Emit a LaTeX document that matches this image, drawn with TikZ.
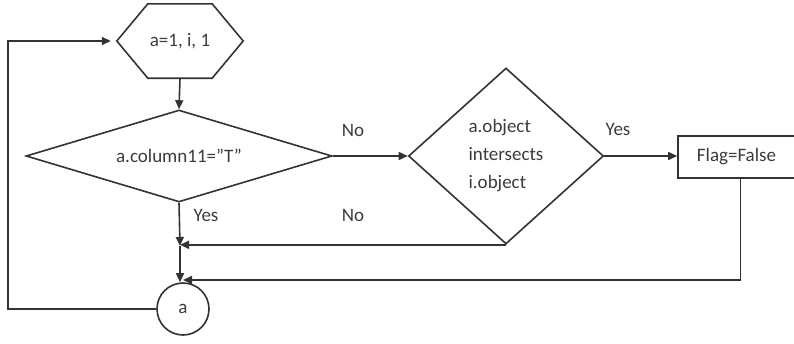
\documentclass[tikz,border=0pt]{standalone}
\usepackage{fontspec}
\setmainfont{Carlito}
\usetikzlibrary{shapes.geometric,arrows.meta}
\definecolor{ink}{HTML}{333333}
\definecolor{txt}{HTML}{3C3C3C}
\begin{document}
\begin{tikzpicture}[x=1pt,y=-1pt,
  ln/.style={draw=ink,line width=1.6pt},
  arr/.style={ln,-{Triangle[length=9pt,width=8pt]}},
  lbl/.style={text=txt,font=\fontsize{19}{23}\selectfont,inner sep=0pt},
  decision/.style={diamond,ln,fill=white,inner sep=0pt,text=txt,
    font=\fontsize{19}{23}\selectfont},
  box/.style={rectangle,ln,fill=white,text=txt,font=\fontsize{19}{23}\selectfont},
  conn/.style={circle,ln,fill=white,text=txt,inner sep=0pt,
    minimum size=52pt,font=\fontsize{19}{23}\selectfont}]
\useasboundingbox (0,0) rectangle (794,343);

% loop start (hexagon)
\node (hex) [lbl,minimum width=126pt,minimum height=74pt] at (180,41) {a=1, i, 1};
\draw[ln,line join=miter] (hex.west) -- ([xshift=31pt]hex.north west)
  -- ([xshift=-31pt]hex.north east) -- (hex.east)
  -- ([xshift=-31pt]hex.south east) -- ([xshift=31pt]hex.south west) -- cycle;

% decisions
\node (d1) [decision,shape aspect=3.33,minimum width=306pt,minimum height=92pt]
  at (179,156) {a.column11="T"};
\node (d2) [decision,shape aspect=1.11,minimum width=195pt,minimum height=176pt,
  align=left,font=\fontsize{19}{28}\selectfont] at (506,156)
  {a.object\\intersects\\i.object};

% action
\node (rect) [box,minimum width=117pt,minimum height=42pt] at (736.5,157) {Flag=False};

% connector
\node (circ) [conn] at (183,309) {a};

% merge points and loop rail
\coordinate (j1) at (180,246);
\coordinate (j2) at (180,280);
\coordinate (lx) at (8,0);

% connectors
\draw[arr] (hex.south) -- (d1.north);
\draw[arr] (d1.east) -- (d2.west);
\draw[arr] (d2.east) -- (rect.west |- d2.east);
\draw[arr] (d1.south) -- (j1);
\draw[arr,shorten >=-3pt] (d2.south) -- ([xshift=3pt]j1 |- d2.south);
\draw[arr] (j1) -- (j1 |- circ.north);
\draw[arr] ([xshift=4pt]rect.south) |- ([xshift=3pt]j2);
\draw[arr,shorten >=6pt] (circ.west) -- (lx |- circ.west) |- (hex.west);

% branch labels
\node[lbl] at (353,130) {No};
\node[lbl] at (618,129) {Yes};
\node[lbl] at (206,215) {Yes};
\node[lbl] at (353,215) {No};
\end{tikzpicture}
\end{document}
